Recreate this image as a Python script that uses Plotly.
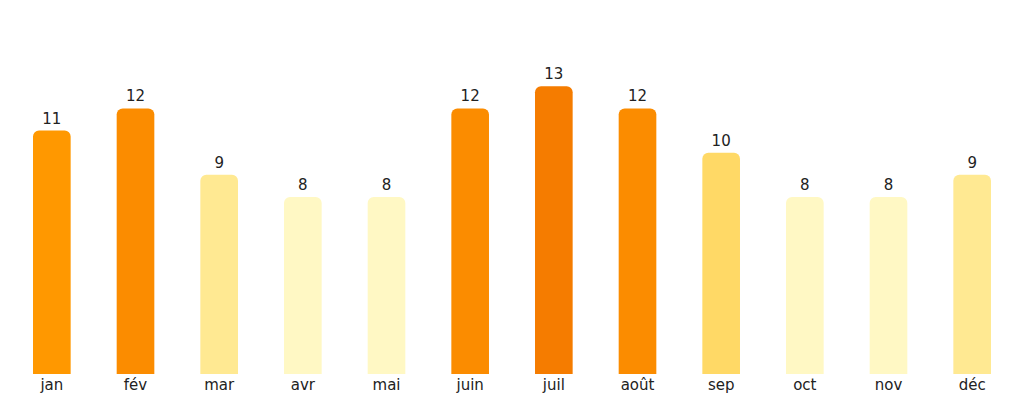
import plotly.graph_objects as go

months = ["jan","fév","mar","avr","mai","juin","juil","août","sep","oct","nov","déc"]
values = [11,12,9,8,8,12,13,12,10,8,8,9]
colors = ["#FF9800","#FB8C00","#FFE992","#FFF8C4","#FFF8C4","#FB8C00","#F57C00","#FB8C00","#FFD966","#FFF8C4","#FFF8C4","#FFE992"]

fig = go.Figure(go.Bar(
    x=months, y=values, marker=dict(color=colors, line=dict(width=0), cornerradius=6),
    text=[str(v) for v in values], textposition="outside", cliponaxis=False,
    textfont=dict(family="DejaVu Sans", size=15, color="#222"),
))
fig.update_layout(
    width=1024, height=404, margin=dict(l=2, r=18, t=34, b=38),
    plot_bgcolor="white", paper_bgcolor="white", bargap=0.55, showlegend=False,
    font=dict(family="DejaVu Sans", size=15, color="#222"),
)
fig.update_yaxes(range=[0,15], visible=False)
fig.update_xaxes(showline=False, showgrid=False, ticks="", tickfont=dict(size=15))
fig.write_html("out.html")
